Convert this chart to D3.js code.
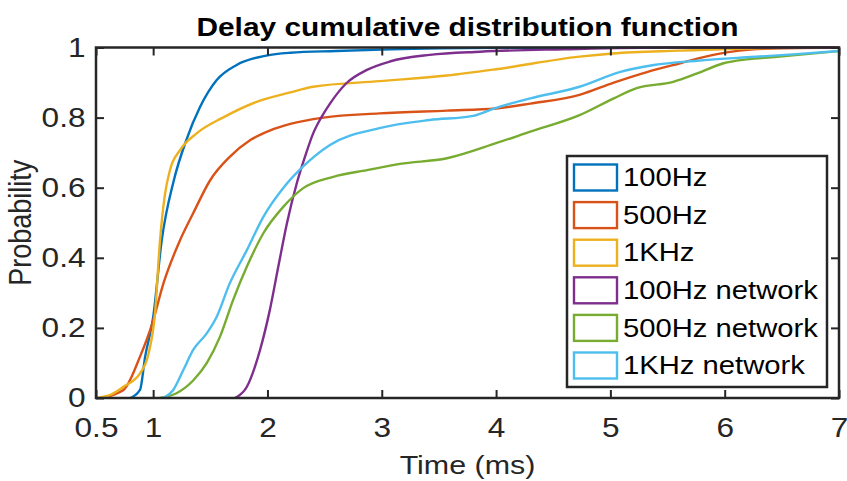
<!DOCTYPE html>
<html>
<head>
<meta charset="utf-8">
<script src="https://cdnjs.cloudflare.com/ajax/libs/d3/7.8.5/d3.min.js"></script>
<style>
  body { margin: 0; background: #fff; }
  text { font-family: "Liberation Sans", Arial, sans-serif; fill: #262626; }
</style>
</head>
<body>
<script>
// CDF curves: [time ms, probability]
var hz100 = [[0.8,0],[0.885,0.023],[0.93,0.118],[1.0,0.23],[1.075,0.45],[1.18,0.62],[1.29,0.736],[1.41,0.83],[1.556,0.907],[1.73,0.95],[1.99,0.977],[2.2,0.985],[2.6,0.99],[3.0,0.994],[4.0,0.999],[7,1]];
var hz500 = [[0.535,0],[0.74,0.023],[0.885,0.118],[0.99,0.21],[1.09,0.327],[1.235,0.45],[1.35,0.527],[1.5,0.622],[1.67,0.688],[1.85,0.736],[2.02,0.763],[2.2,0.782],[2.49,0.80],[2.98,0.812],[3.57,0.82],[4.0,0.826],[4.3,0.84],[4.73,0.865],[5.03,0.90],[5.32,0.93],[5.61,0.955],[5.9,0.979],[6.13,0.991],[6.5,0.998],[7,1]];
var khz1 = [[0.5,0],[0.62,0.008],[0.74,0.032],[0.885,0.07],[0.96,0.127],[1.016,0.24],[1.06,0.45],[1.1,0.574],[1.147,0.65],[1.235,0.707],[1.38,0.755],[1.61,0.80],[1.906,0.845],[2.2,0.872],[2.4,0.888],[2.98,0.904],[3.57,0.92],[4.0,0.938],[4.73,0.974],[5.02,0.983],[5.6,0.991],[6.3,0.998],[7,1]];
var hz100net = [[1.716,0],[1.82,0.032],[1.935,0.137],[2.02,0.25],[2.095,0.375],[2.17,0.498],[2.256,0.612],[2.33,0.69],[2.4,0.755],[2.47,0.80],[2.547,0.84],[2.69,0.898],[2.87,0.936],[3.07,0.96],[3.42,0.979],[3.86,0.988],[4.6,0.995],[5.5,1],[7,1]];
var hz500net = [[1.06,0],[1.2,0.013],[1.35,0.05],[1.47,0.1],[1.585,0.175],[1.7,0.28],[1.82,0.375],[1.964,0.47],[2.14,0.546],[2.31,0.598],[2.576,0.631],[2.87,0.65],[3.16,0.668],[3.57,0.684],[4.0,0.727],[4.3,0.76],[4.73,0.807],[5.03,0.855],[5.23,0.884],[5.55,0.902],[5.76,0.926],[5.99,0.955],[6.19,0.966],[6.48,0.974],[7,0.99]];
var khz1net = [[1.09,0],[1.176,0.023],[1.264,0.08],[1.35,0.137],[1.47,0.185],[1.556,0.232],[1.67,0.327],[1.82,0.422],[1.964,0.517],[2.14,0.60],[2.31,0.66],[2.547,0.722],[2.98,0.77],[3.42,0.793],[3.8,0.805],[4.0,0.828],[4.3,0.855],[4.73,0.888],[5.08,0.93],[5.38,0.95],[5.76,0.962],[6.19,0.972],[6.63,0.981],[7,0.99]];

var names = ["100Hz", "500Hz", "1KHz", "100Hz network", "500Hz network", "1KHz network"];
var colors = ["#0072BD", "#D95319", "#EDB120", "#7E2F8E", "#77AC30", "#4DBEEE"];
var series = [hz100, hz500, khz1, hz100net, hz500net, khz1net];
var xTicks = [0.5, 1, 2, 3, 4, 5, 6, 7];
var yTicks = [0, 0.2, 0.4, 0.6, 0.8, 1];

var width = 847, height = 481;
var plotL = 96, plotR = 839, plotT = 47.5, plotB = 398;
var sx = 1.17; // the figure text is stretched sideways

var svg = d3.select("body").append("svg")
    .attr("width", width)
    .attr("height", height);

var x = d3.scaleLinear().domain([0.5, 7]).range([plotL, plotR]);
var y = d3.scaleLinear().domain([0, 1]).range([plotB, plotT]);

svg.append("clipPath").attr("id", "plot")
  .append("rect")
    .attr("x", plotL).attr("y", plotT - 2)
    .attr("width", plotR - plotL).attr("height", plotB - plotT + 2);

var line = d3.line()
    .x(function(d) { return x(d[0]); })
    .y(function(d) { return y(d[1]); })
    .curve(d3.curveMonotoneX);

svg.append("g").attr("clip-path", "url(#plot)")
  .selectAll("path")
  .data(series)
  .enter().append("path")
    .attr("d", line)
    .attr("fill", "none")
    .attr("stroke", function(d, i) { return colors[i]; })
    .attr("stroke-width", 2.4);

// axes, ticks pointing inward on all four sides
var ax = "#262626";
var gx = svg.append("g").attr("transform", "translate(0," + plotB + ")")
    .call(d3.axisBottom(x).tickValues(xTicks).tickSize(-8).tickSizeOuter(0).tickPadding(20)
      .tickFormat(function(d) { return d; }));
var gy = svg.append("g").attr("transform", "translate(" + plotL + ",0)")
    .call(d3.axisLeft(y).tickValues(yTicks).tickSize(-8).tickSizeOuter(0).tickPadding(9)
      .tickFormat(function(d) { return d; }));
var gt = svg.append("g").attr("transform", "translate(0," + plotT + ")")
    .call(d3.axisTop(x).tickValues(xTicks).tickSize(-8).tickSizeOuter(0).tickFormat(""));
var gr = svg.append("g").attr("transform", "translate(" + plotR + ",0)")
    .call(d3.axisRight(y).tickValues(yTicks).tickSize(-8).tickSizeOuter(0).tickFormat(""));

[gx, gy, gt, gr].forEach(function(g) {
  g.select(".domain").remove();
  g.selectAll(".tick line").attr("stroke", ax).attr("stroke-width", 2);
});
[gx, gy].forEach(function(g) {
  g.selectAll(".tick text")
    .attr("font-size", 27)
    .attr("fill", ax)
    .style("font-family", "'Liberation Sans', Arial, sans-serif")
    .attr("transform", "scale(" + sx + ",1)");
});
gx.selectAll(".tick text").attr("dy", "0.71em");

svg.append("rect")
    .attr("x", plotL).attr("y", plotT)
    .attr("width", plotR - plotL).attr("height", plotB - plotT)
    .attr("fill", "none").attr("stroke", ax).attr("stroke-width", 2.5);

// title and labels
svg.append("text")
    .attr("transform", "translate(" + ((plotL + plotR) / 2) + ",35.5) scale(" + sx + ",1)")
    .attr("text-anchor", "middle")
    .attr("font-size", 25.5)
    .attr("font-weight", "bold")
    .style("fill", "#000")
    .text("Delay cumulative distribution function");

svg.append("text")
    .attr("transform", "translate(" + ((plotL + plotR) / 2) + ",474) scale(" + sx + ",1)")
    .attr("text-anchor", "middle")
    .attr("font-size", 26)
    .text("Time (ms)");

svg.append("text")
    .attr("transform", "translate(31," + ((plotT + plotB) / 2) + ") rotate(-90) scale(1," + sx + ")")
    .attr("text-anchor", "middle")
    .attr("font-size", 27)
    .text("Probability");

// legend
var lg = svg.append("g");
lg.append("rect")
    .attr("x", 567).attr("y", 156)
    .attr("width", 260).attr("height", 231)
    .attr("fill", "#fff").attr("stroke", ax).attr("stroke-width", 2.5);

var item = lg.selectAll("g.item")
  .data(names)
  .enter().append("g")
    .attr("class", "item")
    .attr("transform", function(d, i) { return "translate(0," + (177.5 + i * 37.6) + ")"; });

item.append("rect")
    .attr("x", 574).attr("y", -13)
    .attr("width", 43).attr("height", 26)
    .attr("fill", "#fff")
    .attr("stroke", function(d, i) { return colors[i]; })
    .attr("stroke-width", 2.4);

item.append("text")
    .attr("transform", "translate(623,0) scale(" + sx + ",1)")
    .attr("dy", "0.35em")
    .attr("font-size", 25)
    .style("fill", "#000")
    .text(function(d) { return d; });
</script>
</body>
</html>
